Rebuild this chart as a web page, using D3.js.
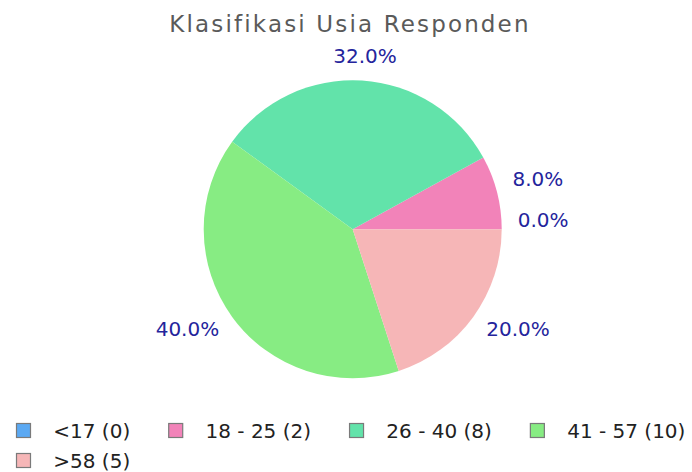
<!DOCTYPE html>
<html>
<head>
<meta charset="utf-8">
<script src="https://cdn.jsdelivr.net/npm/d3@7"></script>
<style>
  html, body { margin: 0; padding: 0; background: #fff; }
  svg { display: block; font-family: "DejaVu Sans", sans-serif; }
</style>
</head>
<body>
<svg id="chart" width="692" height="472"></svg>
<script>
const title = "Klasifikasi Usia Responden";
const categories = ["<17", "18 - 25", "26 - 40", "41 - 57", ">58"];
const counts = [0, 2, 8, 10, 5];
const palette = ["#5ba9f3", "#f283b9", "#62e3aa", "#87ec83", "#f6b6b7"];

const W = 692, H = 472;
const cx = 352.7, cy = 229.3, R = 149, labelR = 165;

const svg = d3.select("#chart");
const total = d3.sum(counts);
const data = categories.map((c, i) => ({ cat: c, value: counts[i], color: palette[i] }));

svg.append("text")
  .attr("x", W / 2 + 4).attr("y", 31.7)
  .attr("text-anchor", "middle")
  .attr("font-size", 23).attr("letter-spacing", 2.15)
  .attr("fill", "#5a5a5a")
  .text(title);

const pie = d3.pie().value(d => d.value).sort(null)
  .startAngle(Math.PI / 2).endAngle(Math.PI / 2 - 2 * Math.PI);
const arcs = pie(data);
const arc = d3.arc().innerRadius(0).outerRadius(R);

const g = svg.append("g").attr("transform", `translate(${cx},${cy})`);
g.selectAll("path.slice").data(arcs).join("path")
  .attr("class", "slice")
  .attr("d", arc)
  .attr("fill", d => d.data.color);

g.selectAll("text.lbl").data(arcs).join("text")
  .attr("class", "lbl")
  .each(function(d) {
    const m = (d.startAngle + d.endAngle) / 2;
    const s = Math.sin(m), c = -Math.cos(m);
    const x = labelR * s, y = labelR * c;
    const anchor = s > 0.15 ? "start" : (s < -0.15 ? "end" : "middle");
    d3.select(this)
      .attr("x", x + (anchor === "middle" ? 2 : 0))
      .attr("y", y + (c <= 0 ? -2 : 10))
      .attr("text-anchor", anchor);
  })
  .attr("font-size", 20)
  .attr("fill", "#24249c")
  .text(d => (d.data.value / total * 100).toFixed(1) + "%");

// legend
const lg = svg.append("g");
let lx = 16, ly = 423;
const sw = 15, gapText = 37.3, gapItem = 38, rowH = 30;
data.forEach(d => {
  const t = lg.append("text")
    .attr("font-size", 20).attr("fill", "#222")
    .text(`${d.cat} (${d.value})`);
  const tw = t.node().getComputedTextLength();
  if (lx + gapText + tw > W) { lx = 16; ly += rowH; }
  lg.append("rect")
    .attr("x", lx + 0.5).attr("y", ly + 0.5)
    .attr("width", sw - 1).attr("height", sw - 1)
    .attr("fill", d.color).attr("stroke", "#7a7a7a").attr("stroke-width", 1.2);
  t.attr("x", lx + gapText).attr("y", ly + 14.6);
  lx += gapText + tw + gapItem;
});
</script>
</body>
</html>
